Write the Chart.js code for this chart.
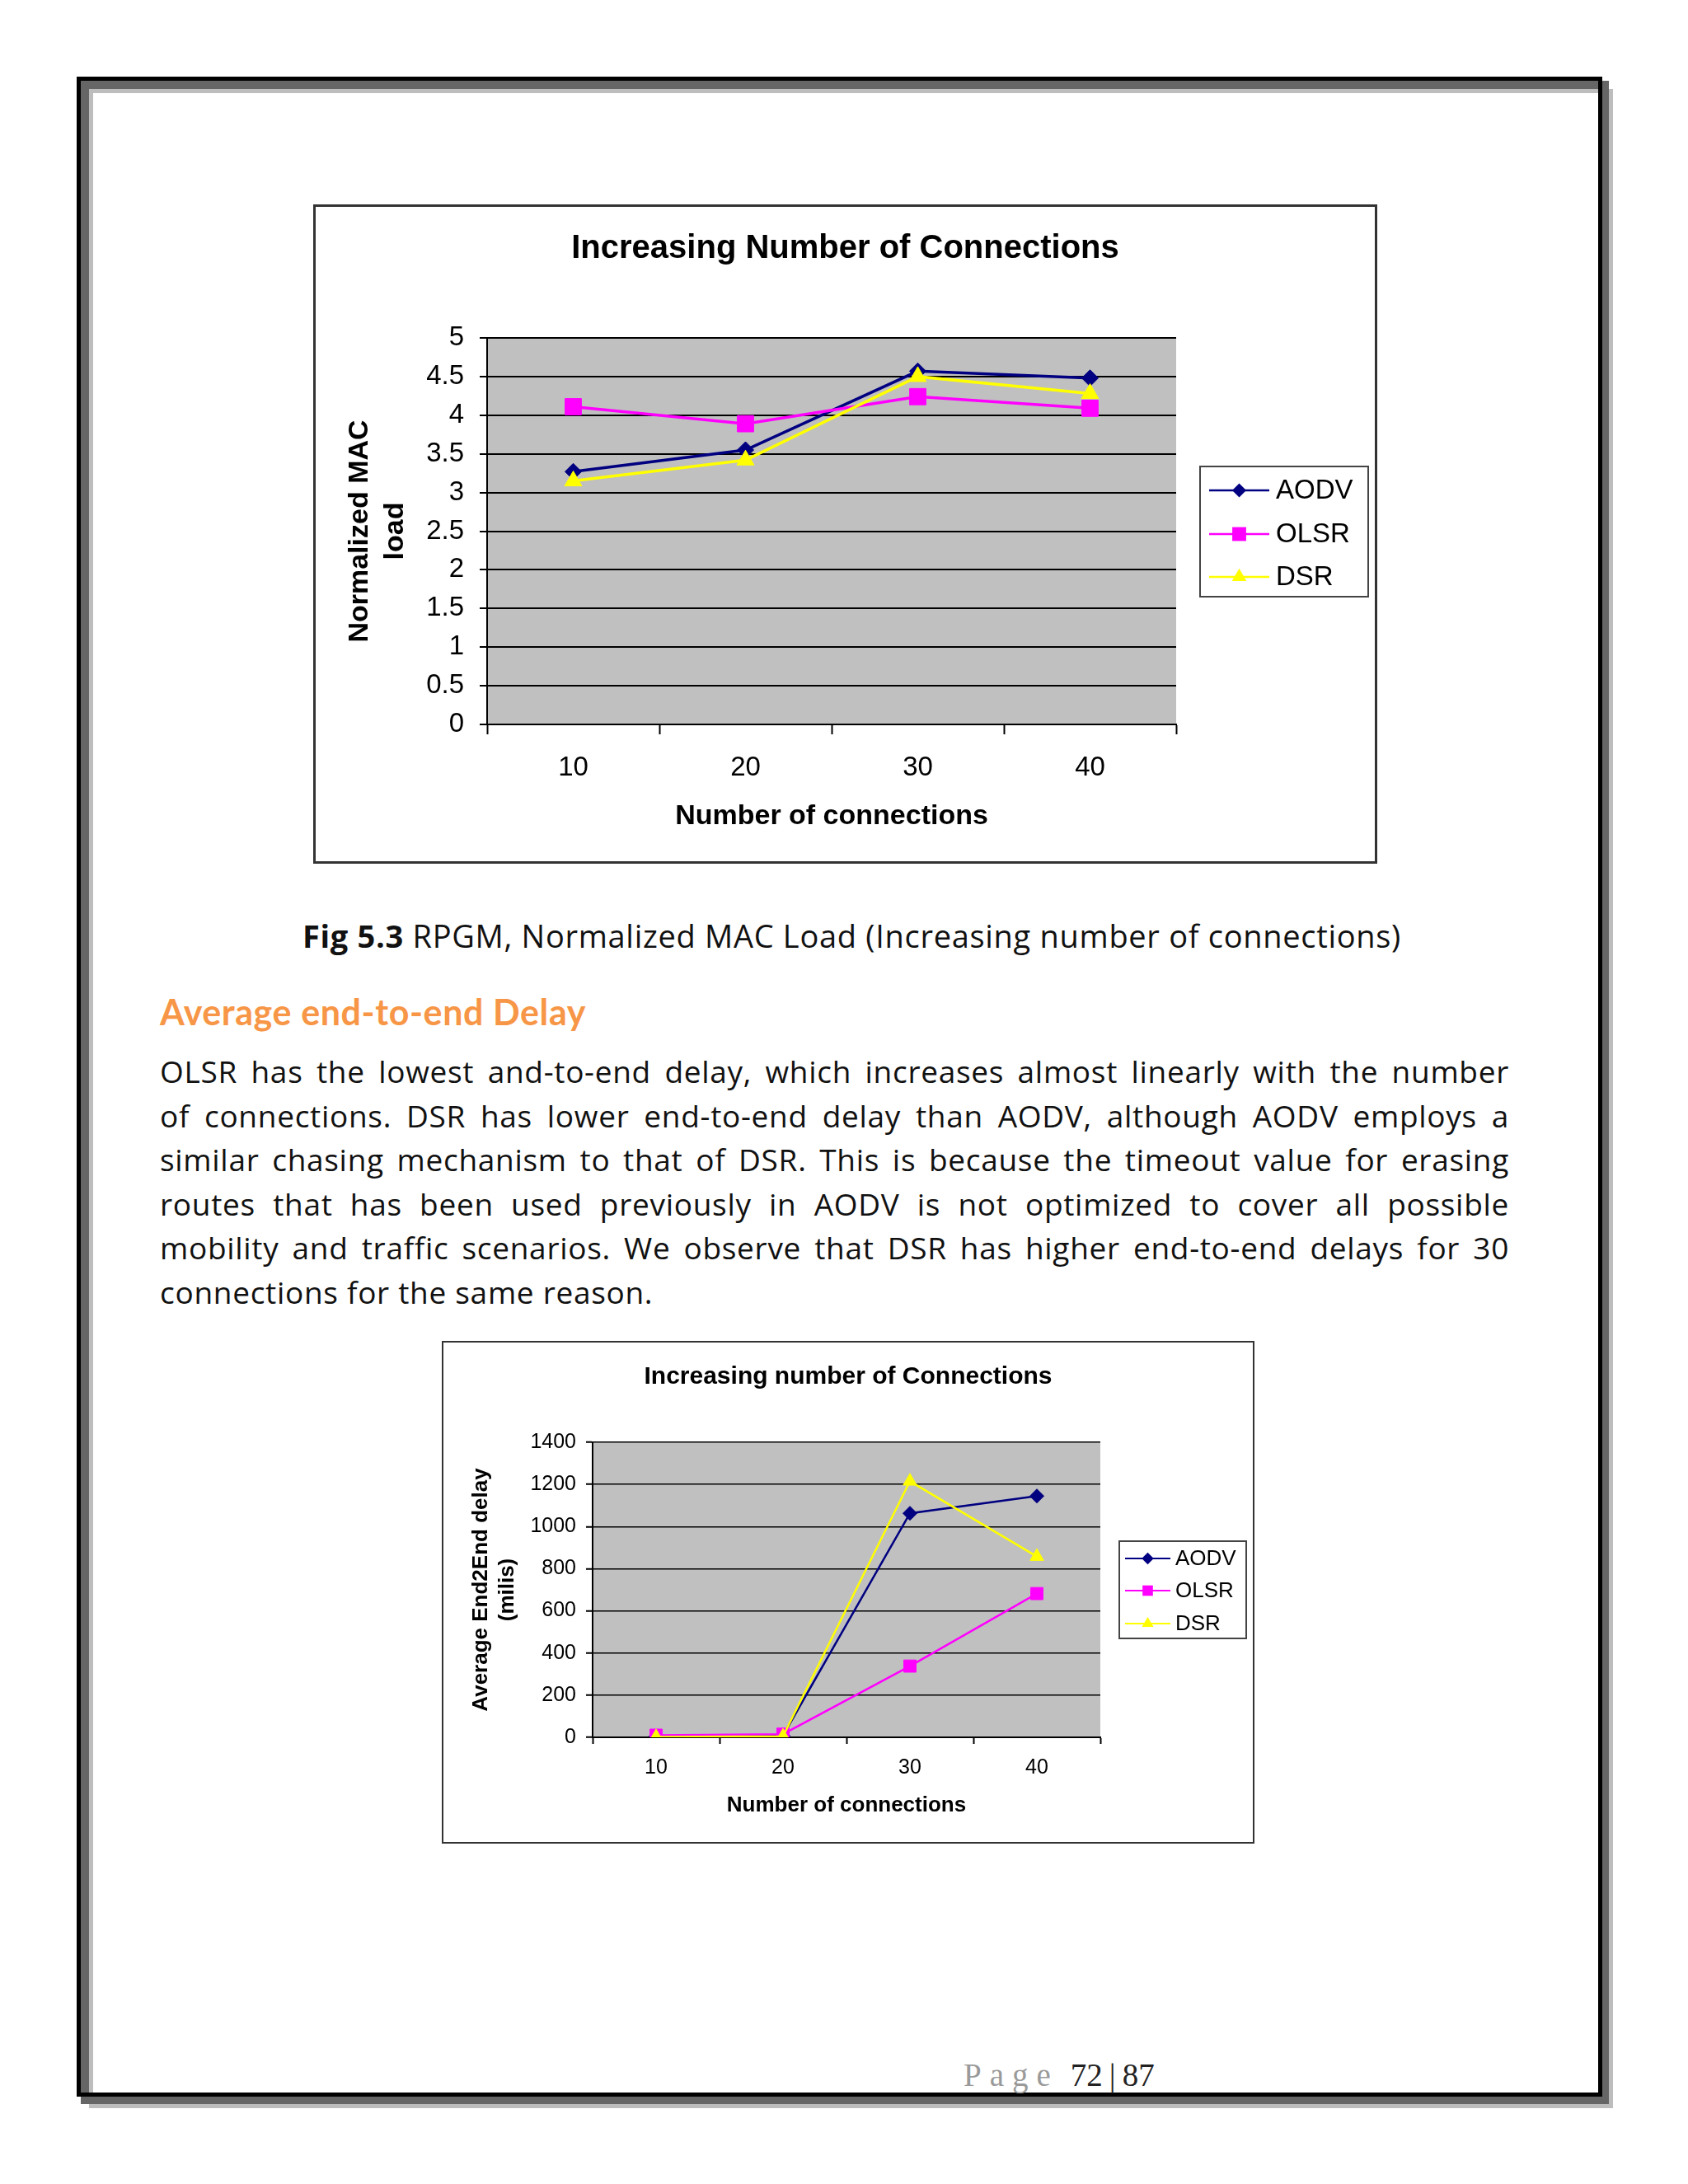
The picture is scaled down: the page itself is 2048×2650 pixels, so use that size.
<!DOCTYPE html>
<html><head><meta charset="utf-8">
<script src="https://cdn.jsdelivr.net/npm/chart.js@4.4.1/dist/chart.umd.min.js"></script>
<style>
html,body{margin:0;padding:0;background:#fff;}
body{width:2048px;height:2650px;position:relative;overflow:hidden;}
.abs{position:absolute;}
.txt{font-family:"Open Sans",sans-serif;color:#111;white-space:nowrap;letter-spacing:0.7px;}
.line{left:194px;width:1637px;font-size:37px;line-height:54px;height:54px;text-align:justify;text-align-last:justify;}
</style></head>
<body>
<div class="abs" style="left:108px;top:108px;width:1849px;height:2450px;box-sizing:border-box;border:5px solid #bdbdbd"></div>
<div class="abs" style="left:98px;top:98px;width:1854px;height:2455px;box-sizing:border-box;border:10px solid #666"></div>
<div class="abs" style="left:93px;top:93px;width:1851px;height:2451px;box-sizing:border-box;border:5px solid #000"></div>

<div class="abs" style="left:380px;top:248px;width:1291px;height:800px;">
  <canvas id="c1" width="1291" height="800"></canvas>
  <div class="abs" style="left:0;top:0;width:1291px;height:800px;box-sizing:border-box;border:3px solid #333;"></div>
</div>

<div class="abs txt" style="left:367px;top:1108px;font-size:38px;line-height:54px;"><b>Fig 5.3</b> RPGM, Normalized MAC Load (Increasing number of connections)</div>
<div class="abs" style="left:194px;top:1202px;font-family:Lato,sans-serif;font-weight:bold;font-size:43px;letter-spacing:0.6px;line-height:1.2;color:#F79646;white-space:nowrap;">Average end-to-end Delay</div>

<div class="abs txt line" style="top:1273px;">OLSR has the lowest and-to-end delay, which increases almost linearly with the number</div>
<div class="abs txt line" style="top:1327px;">of connections. DSR has lower end-to-end delay than AODV, although AODV employs a</div>
<div class="abs txt line" style="top:1380px;">similar chasing mechanism to that of DSR. This is because the timeout value for erasing</div>
<div class="abs txt line" style="top:1434px;">routes that has been used previously in AODV is not optimized to cover all possible</div>
<div class="abs txt line" style="top:1487px;">mobility and traffic scenarios. We observe that DSR has higher end-to-end delays for 30</div>
<div class="abs txt" style="left:194px;top:1541px;font-size:37px;line-height:54px;">connections for the same reason.</div>

<div class="abs" style="left:536px;top:1627px;width:986px;height:610px;">
  <canvas id="c2" width="986" height="610"></canvas>
  <div class="abs" style="left:0;top:0;width:986px;height:610px;box-sizing:border-box;border:2px solid #333;"></div>
</div>

<div class="abs" style="left:1169px;top:2495px;font-family:'Liberation Serif','Times New Roman',serif;font-size:39px;line-height:normal;white-space:nowrap;"><span style="color:#9a9a9a;letter-spacing:10px;">Page</span><span style="color:#222;margin-left:14px;">72</span><span style="color:#222;margin-left:8px;">|</span><span style="color:#222;margin-left:8px;">87</span></div>

<script>
// ---- data ----
const categories = ['10', '20', '30', '40'];
const seriesNames = ['AODV', 'OLSR', 'DSR'];
const macAODV = [3.27, 3.55, 4.57, 4.48];
const macOLSR = [4.11, 3.89, 4.24, 4.09];
const macDSR  = [3.15, 3.42, 4.50, 4.28];
const delayAODV = [5, 8, 1063, 1145];
const delayOLSR = [10, 15, 338, 682];
const delayDSR  = [2, 5, 1215, 858];
const chart1Title = 'Increasing Number of Connections';
const chart2Title = 'Increasing number of Connections';
const xTitle = 'Number of connections';
const y1Title = ['Normalized MAC', 'load'];
const y2Title = ['Average End2End delay', '(milis)'];

const colors = ['#000080', '#FF00FF', '#FFFF00'];
const styles = ['rectRot', 'rect', 'triangle'];
const FONT = "'Liberation Sans', Arial, sans-serif";
Chart.defaults.font.family = FONT;
Chart.defaults.color = '#000';

const plotBg = {
  id: 'plotBg',
  beforeDraw(chart, args, o) {
    const {ctx, chartArea: a} = chart;
    ctx.save();
    ctx.fillStyle = o.color || '#c0c0c0';
    ctx.fillRect(a.left, a.top, a.right - a.left, a.bottom - a.top);
    ctx.restore();
  }
};

function marker(ctx, style, r, x, y) {
  ctx.beginPath();
  if (style === 'rect') {
    const s = Math.SQRT1_2 * r;
    ctx.rect(x - s, y - s, 2 * s, 2 * s);
  } else if (style === 'rectRot') {
    ctx.moveTo(x, y - r); ctx.lineTo(x + r, y); ctx.lineTo(x, y + r); ctx.lineTo(x - r, y); ctx.closePath();
  } else {
    for (let k = 0; k < 3; k++) {
      const ang = -Math.PI / 2 + k * 2 * Math.PI / 3;
      const px = x + Math.cos(ang) * r, py = y + Math.sin(ang) * r;
      if (k === 0) ctx.moveTo(px, py); else ctx.lineTo(px, py);
    }
    ctx.closePath();
  }
  ctx.fill();
}

const boxLegend = {
  id: 'boxLegend',
  afterDraw(chart, args, o) {
    const ctx = chart.ctx;
    ctx.save();
    ctx.fillStyle = '#fff';
    ctx.fillRect(o.x, o.y, o.w, o.h);
    ctx.lineWidth = o.borderWidth;
    ctx.strokeStyle = '#444';
    ctx.strokeRect(o.x, o.y, o.w, o.h);
    chart.data.datasets.forEach((ds, i) => {
      const y = o.rows[i];
      ctx.strokeStyle = ds.borderColor;
      ctx.lineWidth = o.lineWidth;
      ctx.beginPath(); ctx.moveTo(o.lineX0, y); ctx.lineTo(o.lineX1, y); ctx.stroke();
      ctx.fillStyle = ds.pointBackgroundColor;
      marker(ctx, ds.pointStyle, ds.pointRadius * o.markerScale, (o.lineX0 + o.lineX1) / 2, y);
      ctx.fillStyle = '#000';
      ctx.font = o.fontSize + 'px ' + FONT;
      ctx.textBaseline = 'middle';
      ctx.textAlign = 'left';
      ctx.fillText(ds.label, o.textX, y + 1);
    });
    ctx.restore();
  }
};

function datasets(values, lw, radii) {
  return values.map((v, i) => ({
    label: seriesNames[i], data: v, yAxisID: 'y',
    borderColor: colors[i], backgroundColor: colors[i],
    pointBackgroundColor: colors[i], pointBorderColor: colors[i],
    pointStyle: styles[i], pointRadius: radii[i], pointBorderWidth: 1,
    borderWidth: lw, tension: 0, order: 2 - i
  }));
}

function makeChart(id, c) {
  return new Chart(document.getElementById(id), {
    type: 'line',
    data: {labels: categories, datasets: datasets(c.values, c.lw, c.radii)},
    options: {
      responsive: false, animation: false, events: [],
      layout: {padding: 0},
      plugins: {
        legend: {display: false}, tooltip: {enabled: false},
        title: {display: true, text: c.title, color: '#000',
          font: {family: FONT, size: c.titleSize, weight: 'bold', lineHeight: 1.2},
          padding: {top: c.titlePadTop, bottom: c.titlePadBottom}},
        plotBg: {color: '#c0c0c0'},
        boxLegend: c.legend
      },
      scales: {
        x: {
          type: 'category', offset: true,
          grid: {offset: true, drawOnChartArea: false, drawTicks: true, tickLength: c.xTick, tickColor: '#000', tickWidth: 2, color: '#000'},
          border: {color: '#000', width: 2},
          ticks: {font: {size: c.tickSize}, color: '#000', padding: c.xTickPad, maxRotation: 0, autoSkip: false},
          title: {display: true, text: xTitle, color: '#000', font: {size: c.axisTitleSize, weight: 'bold', lineHeight: 1.2}, padding: {top: 0, bottom: c.xTitlePad}},
          afterFit: s => { s.height = c.xHeight; }
        },
        y: {
          min: 0, max: c.max,
          ticks: {stepSize: c.step, font: {size: c.tickSize}, color: '#000', padding: c.yTickPad,
            callback: v => String(v)},
          grid: {color: '#000', lineWidth: c.gridW, tickLength: c.yTick, tickColor: '#000', tickWidth: 2},
          border: {color: '#000', width: 2},
          title: {display: true, text: c.yTitle, color: '#000', font: {size: c.axisTitleSize, weight: 'bold', lineHeight: c.yTitleLH}, padding: {top: c.yTitlePad, bottom: 0}},
          afterFit: s => { s.width = c.yWidth; }
        },
        yR: {
          position: 'right', display: true,
          grid: {display: false}, ticks: {display: false}, border: {display: false},
          afterFit: s => { s.width = c.rightWidth; }
        }
      }
    },
    plugins: [plotBg, boxLegend]
  });
}

makeChart('c1', {
  values: [macAODV, macOLSR, macDSR], lw: 3.5, radii: [10, 14, 12],
  title: chart1Title, titleSize: 40, titlePadTop: 30, titlePadBottom: 84,
  max: 5, step: 0.5, tickSize: 33, axisTitleSize: 34, gridW: 2,
  xTick: 12, xTickPad: 21, xTitlePad: 36.6, xHeight: 169,
  yTick: 9, yTickPad: 19, yTitle: y1Title, yTitleLH: 1.24, yTitlePad: 36, yWidth: 211,
  rightWidth: 244,
  legend: {x: 1076, y: 318, w: 204, h: 158, borderWidth: 2, rows: [347, 400, 452],
    lineX0: 1087, lineX1: 1160, lineWidth: 2.5, markerScale: 0.85, textX: 1168, fontSize: 33}
});

makeChart('c2', {
  values: [delayAODV, delayOLSR, delayDSR], lw: 2.5, radii: [8.5, 10.5, 9.5],
  title: chart2Title, titleSize: 30, titlePadTop: 26, titlePadBottom: 61,
  max: 1400, step: 200, tickSize: 25, axisTitleSize: 26, gridW: 1.5,
  xTick: 8, xTickPad: 14.4, xTitlePad: 30.4, xHeight: 129,
  yTick: 8, yTickPad: 12, yTitle: y2Title, yTitleLH: 1.23, yTitlePad: 32, yWidth: 183,
  rightWidth: 187,
  legend: {x: 822, y: 243, w: 154, h: 118, borderWidth: 2, rows: [264, 303, 343],
    lineX0: 829, lineX1: 884, lineWidth: 2, markerScale: 0.85, textX: 890, fontSize: 26}
});
</script>
</body></html>
